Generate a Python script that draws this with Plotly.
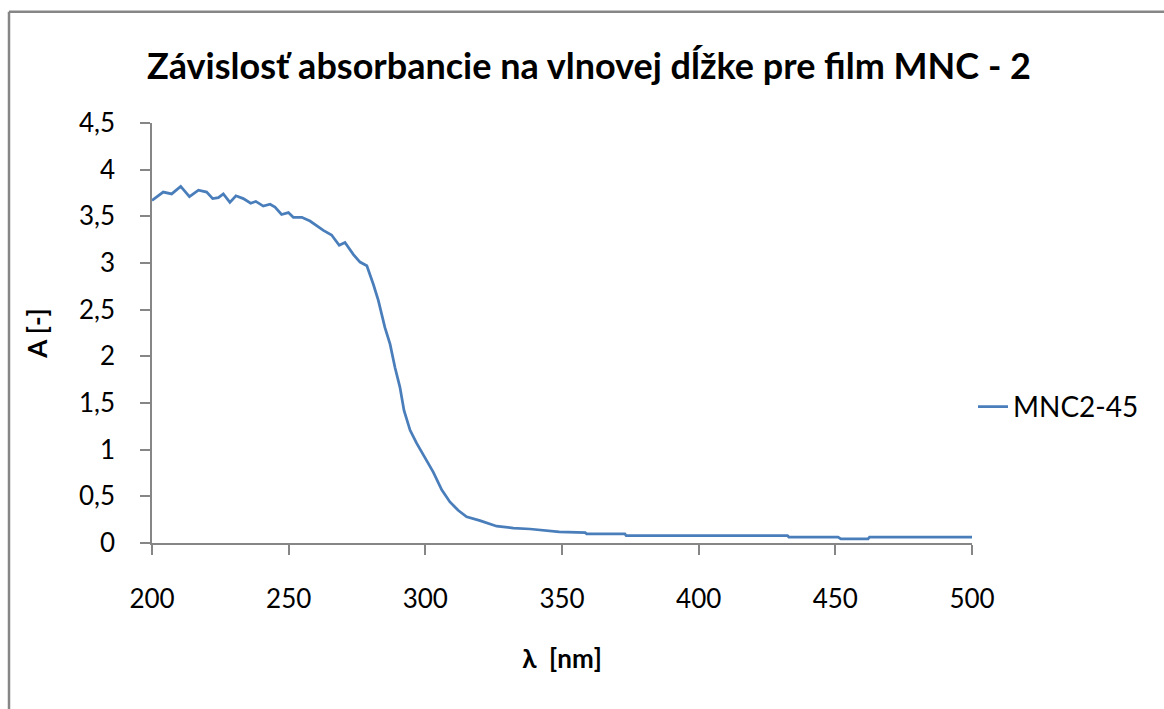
import plotly.graph_objects as go

title_text = "Závislosť absorbancie na vlnovej dĺžke pre film MNC - 2"
series_name = "MNC2-45"
x_title = "λ  [nm]"
y_title = "A [-]"

wavelength = [200, 204.1, 207.2, 210.5, 213.7, 217, 220, 222.2, 224.3, 226.1, 228.5, 230.7,
              233.4, 236.1, 238, 240.7, 243.2, 245, 247.4, 249.9, 251.7, 254.8, 257.8, 260.3,
              262.7, 265.7, 268.5, 270.6, 273.7, 276.1, 278.6, 281, 282.8, 285.2, 287.1, 288.9,
              290.7, 292.2, 294.4, 296.8, 299.9, 302.9, 306, 309, 312, 315.1, 320, 326.1,
              332.2, 338.3, 349, 358.5, 359, 373, 373.5, 432.5, 433, 451, 452, 456, 458, 462,
              462.5, 500]
absorbance = [3.67, 3.76, 3.74, 3.82, 3.71, 3.78, 3.76, 3.69, 3.70, 3.74, 3.65, 3.72,
              3.69, 3.64, 3.66, 3.61, 3.63, 3.60, 3.52, 3.54, 3.49, 3.49, 3.45, 3.40,
              3.35, 3.30, 3.19, 3.22, 3.09, 3.01, 2.97, 2.77, 2.60, 2.31, 2.13, 1.88,
              1.67, 1.42, 1.21, 1.07, 0.92, 0.76, 0.57, 0.44, 0.35, 0.28, 0.24, 0.18,
              0.16, 0.15, 0.12, 0.11, 0.098, 0.098, 0.078, 0.078, 0.064, 0.064, 0.045, 0.05,
              0.045, 0.045, 0.064, 0.064]

x_ticks = [200, 250, 300, 350, 400, 450, 500]
y_ticks = [0, 0.5, 1, 1.5, 2, 2.5, 3, 3.5, 4, 4.5]

FONT = "Lato"
GRAY = "#868686"

fig = go.Figure()
fig.add_trace(go.Scatter(
    x=wavelength, y=absorbance, mode="lines", name=series_name,
    line=dict(color="#4a7ebb", width=2.75),
))

W, H = 1164, 709
L, T = 152, 122.5
R = 1164 - 972
B = 709 - 543.5
pw = W - L - R
ph = H - T - B

def px_x(p):  # page pixel -> paper x
    return (p - L) / pw

def px_y(p):  # page pixel -> paper y
    return (H - B - p) / ph

fig.update_layout(
    width=W, height=H,
    margin=dict(l=L, r=R, t=T, b=B, autoexpand=False),
    paper_bgcolor="white", plot_bgcolor="white",
    separators=", ",
    font=dict(family=FONT, color="black", size=26),
    title=dict(text="<b>" + title_text + "</b>", x=589 / W, xanchor="center",
               y=1 - 66 / H, yanchor="middle",
               font=dict(family=FONT, size=36, color="black")),
    showlegend=True,
    legend=dict(x=px_x(973), xanchor="left", y=px_y(407), yanchor="middle",
                font=dict(family=FONT, size=28, color="black"),
                bgcolor="rgba(0,0,0,0)"),
    xaxis=dict(range=[200, 500], tickvals=x_ticks, showgrid=False, zeroline=False,
               showline=True, linecolor=GRAY, linewidth=1.5,
               ticks="outside", ticklen=10, tickcolor=GRAY, tickwidth=1.5,
               ticklabelstandoff=22,
               tickfont=dict(family=FONT, size=26, color="black"),
               title=dict(text="<b>" + x_title + "</b>", standoff=37,
                          font=dict(family=FONT, size=26, color="black")),
               automargin=False, fixedrange=True),
    yaxis=dict(range=[0, 4.5], tickvals=y_ticks, showgrid=False, zeroline=False,
               showline=True, linecolor=GRAY, linewidth=1.5,
               ticks="outside", ticklen=10, tickcolor=GRAY, tickwidth=1.5,
               ticklabelstandoff=20,
               tickfont=dict(family=FONT, size=26, color="black"),
               title=dict(text="<b>" + y_title + "</b>", standoff=24,
                          font=dict(family=FONT, size=26, color="black")),
               automargin=False, fixedrange=True),
    shapes=[
        dict(type="line", xref="paper", yref="paper",
             x0=px_x(9), x1=px_x(1180), y0=px_y(11), y1=px_y(11),
             line=dict(color=GRAY, width=2.5)),
        dict(type="line", xref="paper", yref="paper",
             x0=px_x(9), x1=px_x(9), y0=px_y(11), y1=px_y(730),
             line=dict(color=GRAY, width=2.5)),
    ],
)

fig.write_html(
    "out.html",
    config={"displayModeBar": False},
    post_script=("document.documentElement.style.margin='0';"
                 "document.body.style.margin='0';"
                 "document.documentElement.style.overflow='hidden';"
                 "document.body.style.overflow='hidden';"),
)
